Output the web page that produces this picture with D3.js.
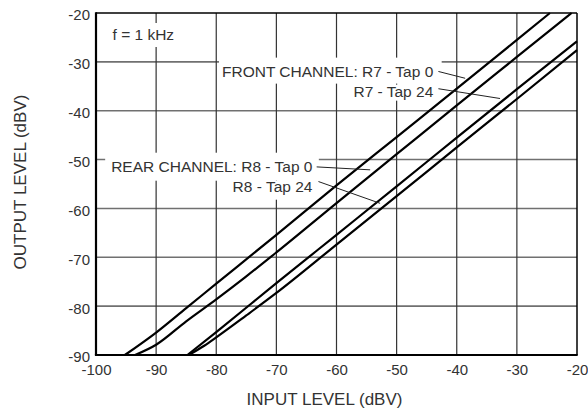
<!DOCTYPE html>
<meta charset="utf-8">
<style>
body { margin: 0; background: #fff; }
text { font-family: "Liberation Sans", Arial, sans-serif; fill: #333; }
.hgrid line { stroke: #707070; stroke-width: 1.6px; }
.vgrid line { stroke: #333; stroke-width: 1.2px; }
.curve { fill: none; stroke: #000; stroke-width: 2.2px; }
.leader { stroke: #222; stroke-width: 1px; }
.tick text { font-size: 15px; }
</style>
<body>
<svg width="588" height="415"></svg>
<script src="https://d3js.org/d3.v7.min.js"></script>
<script>
// axis ticks
var xTicks = [-100, -90, -80, -70, -60, -50, -40, -30, -20];
var yTicks = [-90, -80, -70, -60, -50, -40, -30, -20];

// curves (input dBV -> output dBV)
var frontTap0In  = [-95.2, -90, -85, -80, -70, -60, -50, -40, -30, -24.5];
var frontTap0Out = [-90, -85.4, -80.4, -75.4, -65.4, -55.3, -45.4, -35.5, -25.5, -20];

var rearTap0In  = [-93.5, -90, -85, -80, -75, -70, -60, -50, -40, -30, -20.9];
var rearTap0Out = [-90, -87.9, -83.1, -78.6, -73.9, -69.0, -58.9, -48.9, -38.9, -29.0, -20];

var frontTap24In  = [-84.8, -80, -70, -60, -50, -40, -30, -20];
var frontTap24Out = [-90, -85.3, -75.3, -65.4, -55.5, -45.5, -35.6, -25.8];

var rearTap24In  = [-84.6, -82, -80, -75, -70, -60, -50, -40, -30, -20];
var rearTap24Out = [-90, -88.1, -86.4, -81.9, -77.3, -67.4, -57.5, -47.5, -37.6, -27.6];

// annotation texts
var frontLabels = ["FRONT CHANNEL: R7 - Tap 0", "R7 - Tap 24"];
var rearLabels  = ["REAR CHANNEL: R8 - Tap 0", "R8 - Tap 24"];
var freqNote = "f = 1 kHz";

var svg = d3.select("svg");
var x = d3.scaleLinear().domain([-100, -20]).range([96, 577]);
var y = d3.scaleLinear().domain([-90, -20]).range([355, 13]);

// grid
svg.append("g").attr("class", "hgrid")
  .selectAll("line").data(yTicks.slice(1, -1)).enter().append("line")
  .attr("x1", x(-100)).attr("x2", x(-20))
  .attr("y1", function(d) { return y(d); }).attr("y2", function(d) { return y(d); });

svg.append("g").attr("class", "vgrid")
  .selectAll("line").data(xTicks.slice(1, -1)).enter().append("line")
  .attr("y1", y(-90)).attr("y2", y(-20))
  .attr("x1", function(d) { return x(d); }).attr("x2", function(d) { return x(d); });

// labels with white boxes that hide the grid
var boxes = svg.append("g");
var labels = svg.append("g");

function label(txt, xv, yv, anchor, padL, padR, top, bottom) {
  var t = labels.append("text")
    .attr("x", x(xv)).attr("y", y(yv))
    .attr("dy", "0.36em")
    .attr("text-anchor", anchor)
    .style("font-size", "15.5px")
    .text(txt);
  var b = t.node().getBBox();
  boxes.append("rect")
    .attr("x", b.x - padL).attr("width", b.width + padL + padR)
    .attr("y", y(yv) - top).attr("height", top + bottom)
    .attr("fill", "#fff");
}

label(freqNote, -97.25, -24.3, "start", 6, 6, 11, 13);
label(frontLabels[0], -43.9, -32.0, "end", 3, 8, 14, 12);
label(frontLabels[1], -43.9, -36.1, "end", 5, 8, 7, 9);
label(rearLabels[0], -64.0, -51.46, "end", 6, 6, 14, 14);
label(rearLabels[1], -64.0, -55.55, "end", 6, 6, 6, 13);

// curves
var series = [
  [frontTap0In, frontTap0Out],
  [rearTap0In, rearTap0Out],
  [frontTap24In, frontTap24Out],
  [rearTap24In, rearTap24Out]
];

var line = d3.line()
  .x(function(d) { return x(d[0]); })
  .y(function(d) { return y(d[1]); })
  .curve(d3.curveMonotoneX);

svg.append("g").selectAll("path").data(series).enter().append("path")
  .attr("class", "curve")
  .attr("d", function(s) { return line(d3.zip(s[0], s[1])); });

// leader lines (data units)
var leaders = [
  [[-43.05, -31.97], [-38.6, -33.36]],
  [[-43.05, -35.5], [-32.8, -37.5]],
  [[-63.3, -51.5], [-54.4, -52.1]],
  [[-63.0, -54.5], [-52.75, -58.95]]
];
svg.append("g").selectAll("line").data(leaders).enter().append("line")
  .attr("class", "leader")
  .attr("x1", function(d) { return x(d[0][0]); }).attr("y1", function(d) { return y(d[0][1]); })
  .attr("x2", function(d) { return x(d[1][0]); }).attr("y2", function(d) { return y(d[1][1]); });

// frame
svg.append("line").attr("x1", x(-100)).attr("x2", x(-20)).attr("y1", y(-20)).attr("y2", y(-20))
  .attr("stroke", "#000").attr("stroke-width", 1.5);
svg.append("line").attr("x1", x(-20)).attr("x2", x(-20)).attr("y1", y(-20)).attr("y2", y(-90))
  .attr("stroke", "#000").attr("stroke-width", 1.5);
svg.append("line").attr("x1", x(-100)).attr("x2", x(-100)).attr("y1", y(-20) - 0.7).attr("y2", y(-90))
  .attr("stroke", "#000").attr("stroke-width", 2.2);
svg.append("line").attr("x1", x(-100) - 1.1).attr("x2", x(-20) + 0.7).attr("y1", y(-90)).attr("y2", y(-90))
  .attr("stroke", "#000").attr("stroke-width", 2.2);

// axes (labels only), plain hyphen minus as in the original
var fmt = function(d) { return String(d); };
var xAxis = svg.append("g").attr("transform", "translate(0," + y(-90) + ")")
  .call(d3.axisBottom(x).tickValues(xTicks).tickFormat(fmt).tickSize(0).tickPadding(9.5));
var yAxis = svg.append("g").attr("transform", "translate(" + x(-100) + ",0)")
  .call(d3.axisLeft(y).tickValues(yTicks).tickFormat(fmt).tickSize(0).tickPadding(6));
[xAxis, yAxis].forEach(function(a) {
  a.select(".domain").remove();
  a.selectAll("text").attr("fill", "#333").style("font-family", null);
});
yAxis.selectAll("text").attr("dy", "0.46em");

// axis titles
svg.append("text")
  .attr("x", 324.5).attr("y", 399).attr("dy", "0.36em")
  .attr("text-anchor", "middle").style("font-size", "17px")
  .text("INPUT LEVEL (dBV)");
svg.append("text")
  .attr("transform", "translate(20,182) rotate(-90)")
  .attr("dy", "0.36em")
  .attr("text-anchor", "middle").style("font-size", "17px")
  .text("OUTPUT LEVEL (dBV)");
</script>
</body>
